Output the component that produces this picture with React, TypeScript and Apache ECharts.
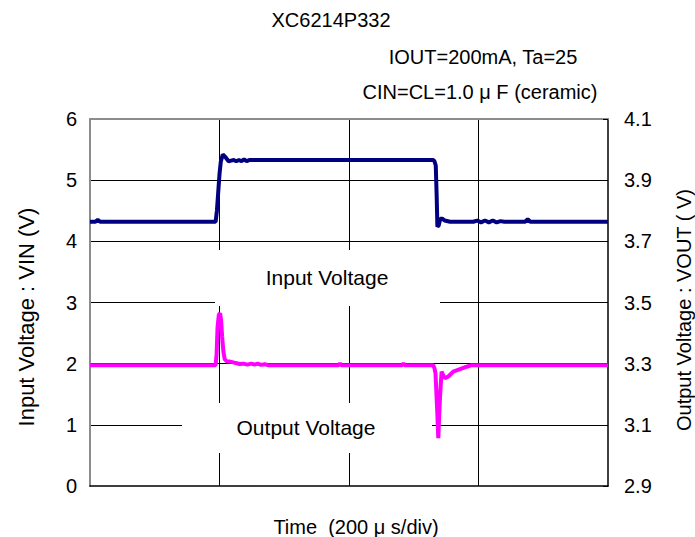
import React, { useEffect, useRef } from "react";
import * as echarts from "echarts";

// Input voltage (left axis, V) vs time (µs)
const vinTime = [0, 8, 12, 16, 194, 196, 198, 200, 202, 205, 209, 214, 218, 222, 226, 230, 234, 238, 242, 246, 252, 530, 532, 534, 535.5, 536.5, 538.5, 541, 544, 548, 556, 592, 598, 604, 610, 616, 622, 628, 634, 640, 646, 652, 672, 676, 680, 800];
const vinValue = [4.32, 4.32, 4.35, 4.32, 4.32, 4.5, 4.8, 5.1, 5.3, 5.42, 5.38, 5.31, 5.32, 5.33, 5.31, 5.33, 5.31, 5.34, 5.31, 5.33, 5.33, 5.33, 5.31, 5.24, 4.7, 4.24, 4.26, 4.37, 4.37, 4.34, 4.32, 4.32, 4.34, 4.31, 4.34, 4.31, 4.34, 4.31, 4.33, 4.32, 4.32, 4.32, 4.32, 4.36, 4.32, 4.32];

// Output voltage (right axis, V) vs time (µs)
const voutTime = [0, 194, 195.5, 197, 199, 201, 202.5, 204, 206, 208, 211, 215, 220, 225, 231, 237, 243, 249, 254, 259, 264, 270, 275, 384, 386, 388, 482, 484, 486, 530, 532, 533.6, 536.2, 537.9, 540.5, 543, 545.5, 548.3, 553.4, 561, 571.4, 581.8, 589.5, 800];
const voutValue = [3.295, 3.295, 3.33, 3.42, 3.46, 3.465, 3.44, 3.39, 3.34, 3.315, 3.308, 3.307, 3.305, 3.302, 3.299, 3.3, 3.297, 3.3, 3.297, 3.3, 3.296, 3.298, 3.295, 3.295, 3.301, 3.295, 3.295, 3.301, 3.295, 3.295, 3.285, 3.268, 3.148, 3.056, 3.19, 3.274, 3.262, 3.252, 3.258, 3.274, 3.282, 3.29, 3.295, 3.295];

const leftAxis = { min: 0, max: 6, interval: 1 };
const rightAxis = { min: 2.9, max: 4.1, interval: 0.2 };
const timeAxis = { min: 0, max: 800, interval: 200 };

const FONT = '"Liberation Sans", Arial, sans-serif';

export default function App() {
  const ref = useRef<HTMLDivElement>(null);
  useEffect(() => {
    if (!ref.current) return;
    const chart = echarts.init(ref.current, undefined, { renderer: "svg" });
    const txt = (text: string, x: number, y: number, size: number, extra: any = {}) => ({
      type: "text",
      x,
      y,
      z: 10,
      ...extra,
      style: { text, fill: "#000", fontSize: size, fontFamily: FONT, align: "center", verticalAlign: "middle" },
    });
    chart.setOption({
      animation: false,
      backgroundColor: "#fff",
      grid: { left: 90, right: 87, top: 119, bottom: 51, outerBoundsMode: "none" },
      xAxis: [
        {
          type: "value",
          ...timeAxis,
          axisLine: { show: true, onZero: false, lineStyle: { color: "#000", width: 1.5 } },
          axisTick: { show: false },
          axisLabel: { show: false },
          splitLine: { show: true, showMinLine: false, showMaxLine: false, lineStyle: { color: "#000", width: 1 } },
        },
        {
          type: "value",
          position: "top",
          ...timeAxis,
          axisLine: { show: true, onZero: false, lineStyle: { color: "#8c8c8c", width: 2 } },
          axisTick: { show: false },
          axisLabel: { show: false },
          splitLine: { show: false },
        },
      ],
      yAxis: [
        {
          type: "value",
          position: "left",
          ...leftAxis,
          axisLine: { show: true, onZero: false, lineStyle: { color: "#8c8c8c", width: 2 } },
          axisTick: { show: false },
          axisLabel: { fontSize: 20, color: "#000", margin: 13, fontFamily: FONT },
          splitLine: { show: true, showMinLine: false, showMaxLine: false, lineStyle: { color: "#000", width: 1 } },
        },
        {
          type: "value",
          position: "right",
          ...rightAxis,
          axisLine: { show: true, onZero: false, lineStyle: { color: "#000", width: 1.5 } },
          axisTick: { show: true, inside: true, length: 5, lineStyle: { color: "#000" } },
          axisLabel: { fontSize: 20, color: "#000", margin: 16, fontFamily: FONT, formatter: (v: number) => v.toFixed(1) },
          splitLine: { show: false },
        },
      ],
      series: [
        {
          type: "line",
          xAxisIndex: 0,
          yAxisIndex: 0,
          data: vinTime.map((t, i) => [t, vinValue[i]]),
          showSymbol: false,
          lineStyle: { color: "#000080", width: 4 },
          itemStyle: { color: "#000080" },
          z: 3,
        },
        {
          type: "line",
          xAxisIndex: 0,
          yAxisIndex: 1,
          data: voutTime.map((t, i) => [t, voutValue[i]]),
          showSymbol: false,
          lineStyle: { color: "#ff00ff", width: 4 },
          itemStyle: { color: "#ff00ff" },
          z: 3,
        },
      ],
      graphic: [
        txt("XC6214P332", 331, 20, 20),
        txt("IOUT=200mA, Ta=25", 483, 57, 20),
        txt("CIN=CL=1.0 μ F (ceramic)", 480, 92, 20),
        { type: "rect", z: 1, shape: { x: 215, y: 250, width: 225, height: 56 }, style: { fill: "#fff" } },
        txt("Input Voltage", 327, 277, 21),
        { type: "rect", z: 1, shape: { x: 182, y: 403, width: 250, height: 50 }, style: { fill: "#fff" } },
        txt("Output Voltage", 306, 427, 21),
        txt("Time  (200 μ s/div)", 356, 527, 20),
        txt("Input Voltage : VIN (V)", 26, 317, 22, { rotation: Math.PI / 2 }),
        txt("Output Voltage : VOUT ( V)", 684, 310, 20, { rotation: Math.PI / 2 }),
      ],
    });
    return () => chart.dispose();
  }, []);
  return <div ref={ref} style={{ position: "fixed", left: 0, top: 0, width: 695, height: 537 }} />;
}
